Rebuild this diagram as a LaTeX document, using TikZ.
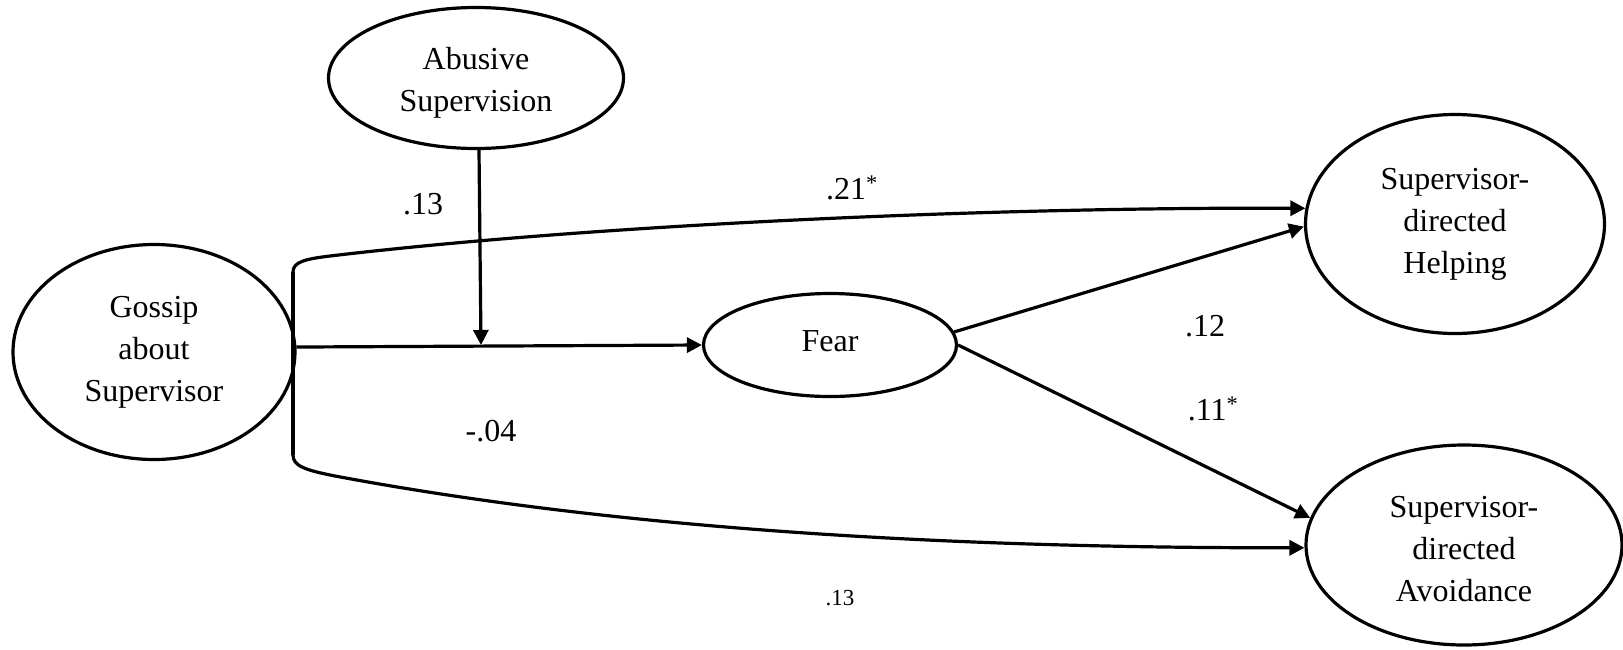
\documentclass[tikz,border=0pt]{standalone}
\usepackage{fontspec}
\setmainfont{Liberation Serif}
\usetikzlibrary{arrows.meta,shapes.geometric}
\newcommand{\movedtext}[2]{\raisebox{#1}[\height][\depth]{\begin{tabular}{@{}c@{}}#2\end{tabular}}}
\begin{document}
\begin{tikzpicture}[x=1pt,y=-1pt,
  lv/.style={draw,line width=3.2pt,ellipse,inner sep=0pt,align=center,font=\fontsize{32}{42}\selectfont},
  lvb/.style={draw,line width=3.2pt,ellipse,inner sep=0pt,font=\fontsize{32}{42}\selectfont},
  conn/.style={line width=3.2pt,-{Triangle[length=15pt,width=15pt]}},
  plain/.style={line width=3.2pt},
  lbl/.style={font=\fontsize{32}{42}\selectfont}]
\useasboundingbox (0,0) rectangle (1623,649);
\node[lvb,minimum width=295pt,minimum height=141pt] (abs) at (476,78) {\movedtext{-4.5pt}{Abusive\\Supervision}};
\node[lv,minimum width=282pt,minimum height=215pt] (gos) at (154,352) {Gossip\\about\\Supervisor};
\node[lvb,minimum width=253pt,minimum height=103pt] (fear) at (830,345) {\raisebox{4pt}[\height][\depth]{Fear}};
\node[lv,minimum width=299pt,minimum height=219pt] (help) at (1455,224) {Supervisor-\\directed\\Helping};
\node[lvb,minimum width=316pt,minimum height=200pt] (avoid) at (1464,545) {\movedtext{-6pt}{Supervisor-\\directed\\Avoidance}};
\coordinate (bt) at (293,272);
\coordinate (bb) at (293,455);
\coordinate (mod) at (481,345);
\draw[conn] (gos.2) -- (fear.west);
\draw[conn] ([xshift=3pt]abs.south) -- (mod);
\draw[plain] (bt) -- (bb);
\draw[conn] (bt) .. controls (293,262) and (305,259) .. (330,256) .. controls (600,224) and (1000,207) .. (help.174);
\draw[conn] (bb) .. controls (293,466) and (305,470) .. (335,476) .. controls (650,535) and (1000,548) .. (avoid.181);
\draw[conn] (fear.6) -- (help.181);
\draw[conn] (fear.east) -- (avoid.170);
\node[lbl] (l1) at (423,204) {.13};
\node[lbl] (l2) at (852,188) {.21\textsuperscript{*}};
\node[lbl] (l3) at (1205,326) {.12};
\node[lbl] (l4) at (1213,409) {.11\textsuperscript{*}};
\node[lbl] (l5) at (491,431) {-.04};
\node[font=\fontsize{23}{28}\selectfont] (l6) at (840,598) {.13};
\end{tikzpicture}
\end{document}
